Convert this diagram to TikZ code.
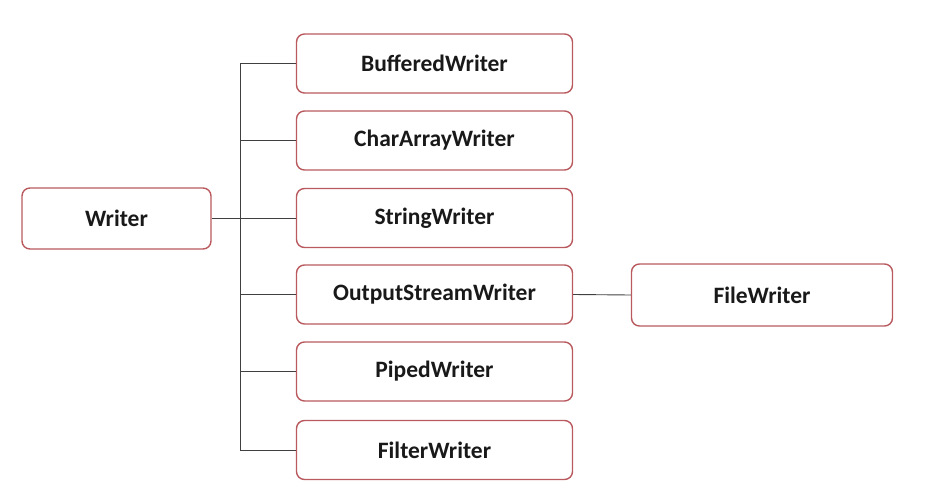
\documentclass[tikz,border=0pt]{standalone}
\usepackage{fontspec}
\setmainfont{Carlito}
\begin{document}
\begin{tikzpicture}[x=1pt,y=-1pt,
  box/.style={draw=boxred, line width=1.4pt, rounded corners=8pt, fill=white,
    font=\bfseries\fontsize{23.5}{26}\selectfont, text=black!90, inner sep=0pt},
  conn/.style={draw=black!75, line width=0.9pt}]
\definecolor{boxred}{RGB}{185,90,95}
\useasboundingbox (0,0) rectangle (934,503);
\node[box, minimum width=189pt, minimum height=61pt] (writer) at (116.5,218.5) {Writer};
\node[box, minimum width=276pt, minimum height=59pt] (b1) at (434.5,63.5) {BufferedWriter};
\node[box, minimum width=276pt, minimum height=59pt] (b2) at (434.5,140.5) {CharArrayWriter};
\node[box, minimum width=276pt, minimum height=59pt] (b3) at (434.5,218) {StringWriter};
\node[box, minimum width=276pt, minimum height=59pt] (b4) at (434.5,294.5) {OutputStreamWriter};
\node[box, minimum width=276pt, minimum height=59pt] (b5) at (434.5,371.5) {PipedWriter};
\node[box, minimum width=276pt, minimum height=59pt] (b6) at (434.5,450) {FilterWriter};
\node[box, minimum width=261pt, minimum height=62pt] (fw) at (762,295) {FileWriter};
\coordinate (tx) at (240,218.5);
\draw[conn] (writer.east) -- (writer.east -| tx);
\draw[conn] (b1.west) -| (tx |- b6.west) -- (b6.west);
\foreach \n in {b2,b3,b4,b5}{
  \draw[conn] (\n.west) -- (\n.west -| tx);
}
\draw[conn] (b4.east) -- (fw.west);
\end{tikzpicture}
\end{document}
